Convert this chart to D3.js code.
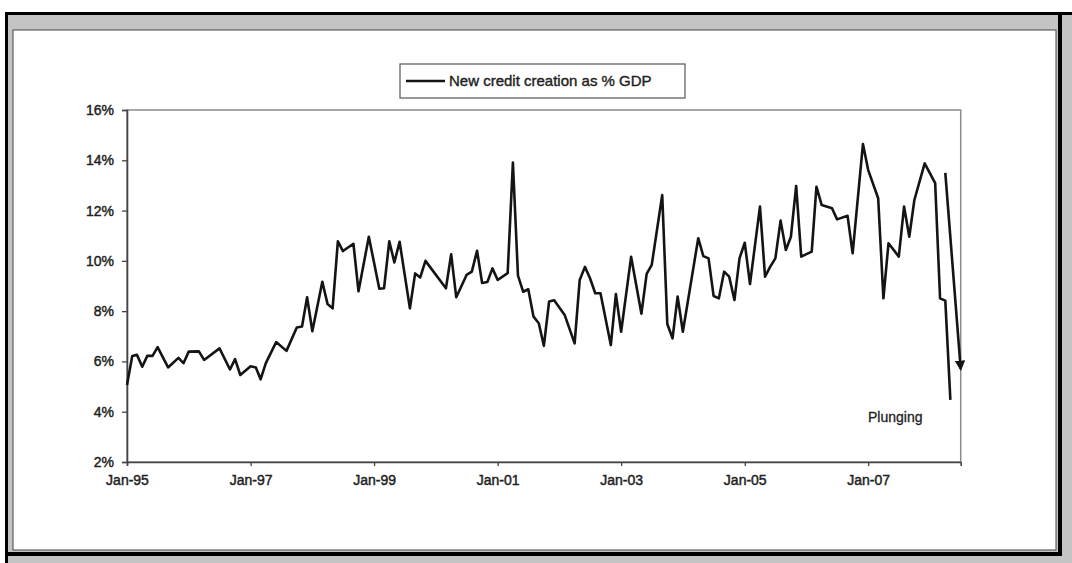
<!DOCTYPE html>
<html lang="en">
<head>
	<meta charset="utf-8">
	<title>New credit creation</title>
	<script type="text/javascript" src="https://cdn.jsdelivr.net/npm/d3@7"></script>
	<style type="text/css">
		body { margin: 0; background: #fff; }
		svg text { font-family: "Liberation Sans", Arial, sans-serif; fill: #1e1e1e; }
	</style>
</head>
<body>
<script type="text/javascript">
	// data (month, % of GDP)
	var months = ["1995-01","1995-02","1995-03","1995-04","1995-05","1995-06","1995-07","1995-09","1995-11","1995-12",
		"1996-01","1996-03","1996-04","1996-07","1996-09","1996-10","1996-11",
		"1997-01","1997-02","1997-03","1997-04","1997-06","1997-08","1997-10","1997-11","1997-12",
		"1998-01","1998-03","1998-04","1998-05","1998-06","1998-07","1998-09","1998-10","1998-12",
		"1999-02","1999-03","1999-04","1999-05","1999-06","1999-08","1999-09","1999-10","1999-11",
		"2000-03","2000-04","2000-05","2000-07","2000-08","2000-09","2000-10","2000-11","2000-12",
		"2001-01","2001-03","2001-04","2001-05","2001-06","2001-07","2001-08","2001-09","2001-10","2001-11","2001-12",
		"2002-02","2002-04","2002-05","2002-06","2002-07","2002-08","2002-09","2002-11","2002-12",
		"2003-01","2003-03","2003-05","2003-06","2003-07","2003-09","2003-10","2003-11","2003-12",
		"2004-01","2004-04","2004-05","2004-06","2004-07","2004-08","2004-09","2004-10","2004-11","2004-12",
		"2005-01","2005-02","2005-04","2005-05","2005-06","2005-07","2005-08","2005-09","2005-10","2005-11","2005-12",
		"2006-02","2006-03","2006-04","2006-06","2006-07","2006-09","2006-10","2006-12",
		"2007-01","2007-03","2007-04","2007-05","2007-07","2007-08","2007-09","2007-10","2007-12",
		"2008-02","2008-03","2008-04","2008-05"];
	var creditPct = [5.06,6.22,6.26,5.79,6.22,6.22,6.57,5.76,6.14,5.93,
		6.39,6.40,6.06,6.52,5.68,6.09,5.46,
		5.81,5.76,5.29,5.93,6.77,6.42,7.35,7.39,8.55,
		7.20,9.17,8.28,8.11,10.78,10.39,10.68,8.79,10.96,
		8.89,8.91,10.78,9.94,10.76,8.11,9.50,9.34,10.00,
		8.91,10.26,8.55,9.44,9.57,10.40,9.12,9.16,9.70,
		9.24,9.51,13.91,9.41,8.77,8.87,7.78,7.52,6.62,8.38,8.43,
		7.85,6.72,9.24,9.76,9.31,8.71,8.71,6.65,8.68,
		7.18,10.16,7.90,9.48,9.84,12.62,7.49,6.92,8.58,
		7.18,10.90,10.19,10.10,8.60,8.51,9.57,9.37,8.44,10.10,
		10.72,9.08,12.16,9.37,9.77,10.10,11.60,10.43,10.96,12.98,10.17,
		10.37,12.95,12.22,12.09,11.65,11.79,10.30,14.65,
		13.61,12.49,8.51,10.70,10.17,12.16,10.96,12.42,13.88,
		13.09,8.51,8.42,4.47];
	var xTicks = ["1995-01","1997-01","1999-01","2001-01","2003-01","2005-01","2007-01"];
	var yTicks = [2,4,6,8,10,12,14,16];
	var arrowMonths = ["2008-04","2008-07"];
	var arrowPct = [13.5,5.7];
	var seriesName = "New credit creation as % GDP";
	var noteText = "Plunging";

	var W = 1072, H = 563;
	var parseMonth = d3.timeParse("%Y-%m");
	var fmt = d3.timeFormat("%b-%y");

	var svg = d3.select("body").append("svg")
		.attr("width", W)
		.attr("height", H);

	// window frame round the chart
	svg.append("rect").attr("x", 0).attr("y", 0).attr("width", W).attr("height", H).attr("fill", "#fff");
	svg.append("rect").attr("x", 5).attr("y", 12).attr("width", W - 5).attr("height", H - 12).attr("fill", "#c4c4c4");
	svg.append("path").attr("d", "M6.5,563 V13.5 H1072").attr("fill", "none").attr("stroke", "#000").attr("stroke-width", 3);
	svg.append("path").attr("d", "M6.5,554 H1060 V13.5").attr("fill", "none").attr("stroke", "#000").attr("stroke-width", 4);
	svg.append("rect").attr("x", 13).attr("y", 30).attr("width", 1043).attr("height", 520)
		.attr("fill", "#fff").attr("stroke", "#444").attr("stroke-width", 1);

	var plotL = 127, plotR = 960.7, plotT = 110, plotB = 462;
	var x = d3.scaleTime()
		.domain([parseMonth("1995-01"), parseMonth("2008-07")])
		.range([plotL, plotR]);
	var y = d3.scaleLinear()
		.domain([2, 16])
		.range([plotB, plotT]);

	// plot area border
	svg.append("rect")
		.attr("x", plotL).attr("y", plotT)
		.attr("width", plotR - plotL).attr("height", plotB - plotT)
		.attr("fill", "none").attr("stroke", "#8a8a8a").attr("stroke-width", 1.5);

	var yAxis = svg.append("g")
		.attr("transform", "translate(" + plotL + ",0)")
		.call(d3.axisLeft(y).tickValues(yTicks).tickSize(5).tickPadding(8)
			.tickFormat(function(d){ return d + "%"; }));
	var xAxis = svg.append("g")
		.attr("transform", "translate(0," + plotB + ")")
		.call(d3.axisBottom(x).tickValues(xTicks.map(parseMonth)).tickSize(4).tickPadding(9)
			.tickFormat(fmt));
	[yAxis, xAxis].forEach(function(g){
		g.select(".domain").attr("stroke", "#444").attr("stroke-width", 1.6);
		g.selectAll(".tick line").attr("stroke", "#444").attr("stroke-width", 1.3);
		g.selectAll(".tick text")
			.attr("font-family", "Liberation Sans, Arial, sans-serif")
			.attr("font-size", "14px")
			.attr("fill", "#1e1e1e")
			.attr("stroke", "#1e1e1e").attr("stroke-width", 0.45);
	});

	var data = months.map(function(m, i){
		return { date: parseMonth(m), value: creditPct[i] };
	});
	var line = d3.line()
		.x(function(d){ return x(d.date); })
		.y(function(d){ return y(d.value); });
	svg.append("path")
		.datum(data)
		.attr("d", line)
		.attr("fill", "none")
		.attr("stroke", "#141414")
		.attr("stroke-width", 2.6)
		.attr("stroke-linejoin", "round");

	// arrow
	svg.append("defs").append("marker")
		.attr("id", "head")
		.attr("viewBox", "0 0 10 10")
		.attr("refX", 8).attr("refY", 5)
		.attr("markerWidth", 4).attr("markerHeight", 4)
		.attr("orient", "auto")
		.append("path").attr("d", "M0,0 L10,5 L0,10 z").attr("fill", "#141414");
	svg.append("line")
		.attr("x1", x(parseMonth(arrowMonths[0]))).attr("y1", y(arrowPct[0]))
		.attr("x2", x(parseMonth(arrowMonths[1]))).attr("y2", y(arrowPct[1]))
		.attr("stroke", "#141414").attr("stroke-width", 2.6)
		.attr("marker-end", "url(#head)");

	svg.append("text")
		.attr("x", 868).attr("y", 422)
		.attr("font-size", "14px")
		.attr("stroke", "#1e1e1e").attr("stroke-width", 0.3)
		.text(noteText);

	// legend
	var lg = svg.append("g").attr("transform", "translate(400,64)");
	lg.append("rect").attr("width", 285).attr("height", 34)
		.attr("fill", "#fff").attr("stroke", "#555").attr("stroke-width", 1.2);
	lg.append("line").attr("x1", 6).attr("x2", 45).attr("y1", 17).attr("y2", 17)
		.attr("stroke", "#141414").attr("stroke-width", 2.6);
	lg.append("text").attr("x", 49).attr("y", 22)
		.attr("font-size", "15px")
		.attr("stroke", "#1e1e1e").attr("stroke-width", 0.4)
		.text(seriesName);
</script>
</body>
</html>
